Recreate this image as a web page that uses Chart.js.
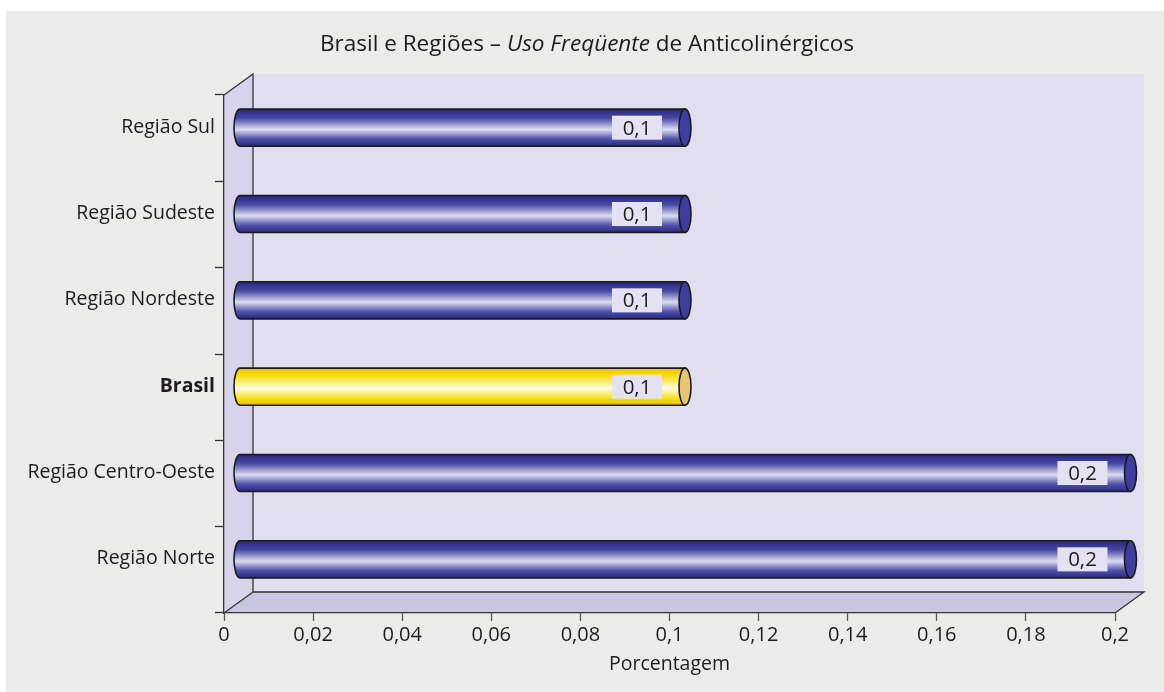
<!DOCTYPE html>
<html>
<head>
<meta charset="utf-8">
<script src="https://cdn.jsdelivr.net/npm/chart.js@4/dist/chart.umd.min.js"></script>
<style>
  html, body { margin: 0; padding: 0; background: #fff; }
  #wrap { width: 1164px; height: 692px; position: relative; }
</style>
</head>
<body>
<div id="wrap"><canvas id="chart" width="1164" height="692"></canvas></div>
<script>
// ── Données ────────────────────────────────────────────────────────────────
const categories = ['Região Sul', 'Região Sudeste', 'Região Nordeste', 'Brasil', 'Região Centro-Oeste', 'Região Norte'];
const values     = [0.1, 0.1, 0.1, 0.1, 0.2, 0.2];
const xTicks     = [0, 0.02, 0.04, 0.06, 0.08, 0.1, 0.12, 0.14, 0.16, 0.18, 0.2];
const highlight  = 'Brasil';

const FONT  = '"Open Sans", "Noto Sans", sans-serif';
const INK   = '#1f1b1c';
const DEPTH = { dx: 29, dy: -21 };   // profondeur du mur du fond
const fmt   = v => String(v).replace('.', ',');

// ── Décor 3D : fond gris, murs, sol ────────────────────────────────────────
const walls = {
  id: 'walls',
  beforeDraw(chart) {
    const { ctx, chartArea: a } = chart;
    const { dx, dy } = DEPTH;
    ctx.save();
    ctx.fillStyle = '#fff';
    ctx.fillRect(0, 0, chart.width, chart.height);
    ctx.fillStyle = '#ebecea';
    ctx.fillRect(6, 11, chart.width - 6, chart.height - 11);

    // mur du fond
    ctx.fillStyle = '#e1def0';
    ctx.fillRect(a.left + dx, a.top + dy, a.right - a.left, a.bottom - a.top);
    // mur gauche
    ctx.fillStyle = '#d6d3ea';
    ctx.beginPath();
    ctx.moveTo(a.left, a.top);
    ctx.lineTo(a.left + dx, a.top + dy);
    ctx.lineTo(a.left + dx, a.bottom + dy);
    ctx.lineTo(a.left, a.bottom);
    ctx.closePath();
    ctx.fill();
    // sol
    ctx.fillStyle = '#c9c6e2';
    ctx.beginPath();
    ctx.moveTo(a.left, a.bottom);
    ctx.lineTo(a.left + dx, a.bottom + dy);
    ctx.lineTo(a.right + dx, a.bottom + dy);
    ctx.lineTo(a.right, a.bottom);
    ctx.closePath();
    ctx.fill();

    ctx.strokeStyle = '#333';
    ctx.lineWidth = 1.3;
    ctx.beginPath();
    ctx.moveTo(a.left, a.top);
    ctx.lineTo(a.left + dx, a.top + dy);
    ctx.lineTo(a.left + dx, a.bottom + dy);
    ctx.lineTo(a.right + dx, a.bottom + dy);
    ctx.lineTo(a.right, a.bottom);
    ctx.moveTo(a.left + dx, a.bottom + dy);
    ctx.lineTo(a.left, a.bottom);
    ctx.stroke();

    // titre (partie en italique)
    const parts = [
      { t: 'Brasil e Regiões – ', s: 'normal' },
      { t: 'Uso Freqüente', s: 'italic' },
      { t: ' de Anticolinérgicos', s: 'normal' },
    ];
    const size = 22.5;
    let total = 0;
    parts.forEach(p => { ctx.font = `${p.s} ${size}px ${FONT}`; p.w = ctx.measureText(p.t).width; total += p.w; });
    let x = 587 - total / 2;
    ctx.fillStyle = INK;
    ctx.textBaseline = 'middle';
    parts.forEach(p => { ctx.font = `${p.s} ${size}px ${FONT}`; ctx.fillText(p.t, x, 45); x += p.w; });
    ctx.restore();
  },
};

// ── Barres cylindriques + étiquettes ───────────────────────────────────────
const cylinders = {
  id: 'cylinders',
  afterDatasetsDraw(chart) {
    const { ctx } = chart;
    const dx = DEPTH.dx / 2 + 1, dy = DEPTH.dy / 2;
    const meta = chart.getDatasetMeta(0);
    meta.data.forEach((bar, i) => {
      const gold = categories[i] === highlight;
      const x0 = bar.base + dx, x1 = bar.x + dx;
      const yc = bar.y + dy, h = bar.height, top = yc - h / 2, bot = yc + h / 2;
      const rx = 6;

      const g = ctx.createLinearGradient(0, top, 0, bot);
      if (gold) {
        g.addColorStop(0, '#e8c400'); g.addColorStop(0.2, '#f8dc10');
        g.addColorStop(0.55, '#fffbe2'); g.addColorStop(0.8, '#f8e020'); g.addColorStop(1, '#e6c200');
      } else {
        g.addColorStop(0, '#26267e'); g.addColorStop(0.25, '#4a4aa6');
        g.addColorStop(0.55, '#dcdcf2'); g.addColorStop(0.8, '#5252ac'); g.addColorStop(1, '#28287e');
      }
      ctx.save();
      ctx.beginPath();
      ctx.moveTo(x1, top);
      ctx.lineTo(x0, top);
      ctx.ellipse(x0, yc, rx, h / 2, 0, -Math.PI / 2, Math.PI / 2, true);
      ctx.lineTo(x1, bot);
      ctx.closePath();
      ctx.fillStyle = g;
      ctx.fill();
      ctx.strokeStyle = '#1a1a1a';
      ctx.lineWidth = 1.6;
      ctx.stroke();
      // bout droit
      ctx.beginPath();
      ctx.ellipse(x1, yc, rx, h / 2, 0, 0, Math.PI * 2);
      ctx.fillStyle = gold ? '#e6c676' : '#3e3ea0';
      ctx.fill();
      ctx.stroke();

      // étiquette de valeur
      const bw = 50, bh = 24, bx = x1 - 23 - bw;
      ctx.fillStyle = '#e4e2f2';
      ctx.fillRect(bx, yc - bh / 2, bw, bh);
      ctx.fillStyle = INK;
      ctx.font = `20.5px ${FONT}`;
      ctx.textAlign = 'center';
      ctx.textBaseline = 'middle';
      ctx.fillText(fmt(values[i]), bx + bw / 2, yc + 1);
      ctx.restore();
    });
  },
};

new Chart(document.getElementById('chart'), {
  type: 'bar',
  data: {
    labels: categories,
    datasets: [{
      data: values,
      backgroundColor: 'rgba(0,0,0,0)',
      borderWidth: 0,
      categoryPercentage: 1,
      barPercentage: 0.43,
    }],
  },
  options: {
    indexAxis: 'y',
    responsive: false, animation: false,
    layout: { padding: { top: 95, right: 49, bottom: 0, left: 0 } },
    plugins: { legend: { display: false }, tooltip: { enabled: false } },
    scales: {
      x: {
        min: 0, max: 0.2,
        afterBuildTicks: s => { s.ticks = xTicks.map(v => ({ value: v })); },
        afterFit: s => { s.height = 79; },
        grid: { drawOnChartArea: false, tickLength: 8, color: '#555', tickWidth: 1.3 },
        border: { color: '#333', width: 1.3 },
        ticks: { padding: 2, color: INK, font: { family: FONT, size: 20 }, callback: v => fmt(+v.toFixed(2)), maxRotation: 0 },
        title: { display: true, text: 'Porcentagem', color: INK, font: { family: FONT, size: 19.5 }, padding: { top: 0, bottom: 16 } },
      },
      y: {
        afterFit: s => { s.width = 224; },
        grid: { drawOnChartArea: false, tickLength: 9, color: '#333', tickWidth: 1.3, offset: true },
        border: { color: '#333', width: 1.3 },
        ticks: {
          padding: 0, labelOffset: -11, color: INK,
          font: ctx => ({ family: FONT, size: 19.5, weight: ctx.tick && ctx.tick.label === highlight ? 'bold' : 'normal' }),
        },
      },
    },
  },
  plugins: [walls, cylinders],
});
</script>
</body>
</html>
